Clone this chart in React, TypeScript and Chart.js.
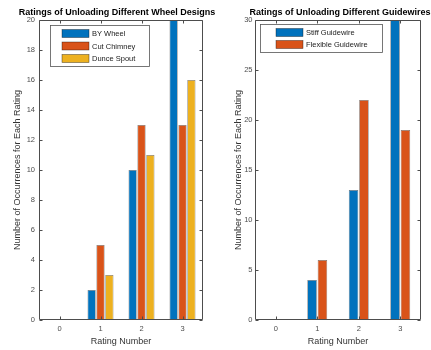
import React, { useEffect, useRef } from "react";
import { Chart, registerables } from "chart.js";

Chart.register(...registerables);

// ---- data ----
const ratingLabels = ["0", "1", "2", "3"];

const wheelTitle = "Ratings of Unloading Different Wheel Designs";
const wheelNames = ["BY Wheel", "Cut Chimney", "Dunce Spout"];
const byWheel = [0, 2, 10, 20];
const cutChimney = [0, 5, 13, 13];
const dunceSpout = [0, 3, 11, 16];
const wheelMax = 20;
const wheelStep = 2;

const guideTitle = "Ratings of Unloading Different Guidewires";
const guideNames = ["Stiff Guidewire", "Flexible Guidewire"];
const stiffGuide = [0, 4, 13, 30];
const flexibleGuide = [0, 6, 22, 19];
const guideMax = 30;
const guideStep = 5;

const xTitle = "Rating Number";
const yTitle = "Number of Occurrences for Each Rating";

const COLORS = ["#0072BD", "#D95319", "#EDB120"];
const FONT = "'Liberation Sans', Arial, Helvetica, sans-serif";
const AXIS = "#4d4d4d";

const framePlugin = {
  id: "matlabFrame",
  afterDraw(chart: any, _args: any, opts: any) {
    const { ctx, chartArea } = chart;
    const { left, right, top, bottom } = chartArea;
    const xs = chart.scales.x;
    const ys = chart.scales.y;
    ctx.save();
    // frame
    ctx.strokeStyle = AXIS;
    ctx.lineWidth = 1;
    const L = Math.round(left) + 0.5;
    const R = Math.round(right) - 0.5;
    const T = Math.round(top) + 0.5;
    const B = Math.round(bottom) - 0.5;
    ctx.beginPath();
    ctx.moveTo(L, T);
    ctx.lineTo(R, T);
    ctx.lineTo(R, B);
    ctx.lineTo(L, B);
    ctx.closePath();
    ctx.stroke();
    // inward ticks
    const tl = 3;
    ctx.beginPath();
    ys.ticks.forEach((t: any) => {
      const y = Math.round(ys.getPixelForValue(t.value)) + 0.5;
      ctx.moveTo(L, y);
      ctx.lineTo(L + tl, y);
      ctx.moveTo(R, y);
      ctx.lineTo(R - tl, y);
    });
    xs.ticks.forEach((_t: any, i: number) => {
      const x = Math.round(xs.getPixelForValue(i)) + 0.5;
      ctx.moveTo(x, B);
      ctx.lineTo(x, B - tl);
      ctx.moveTo(x, T);
      ctx.lineTo(x, T + tl);
    });
    ctx.stroke();

    // title
    ctx.fillStyle = "#000";
    ctx.font = `bold 9px ${FONT}`;
    ctx.textAlign = "center";
    ctx.textBaseline = "middle";
    ctx.fillText(opts.title, (left + right) / 2 + (opts.titleDx || 0), 13);

    // legend
    const names: string[] = chart.data.datasets.map((d: any) => d.label);
    ctx.font = `7.5px ${FONT}`;
    const maxW = Math.max(...names.map((n) => ctx.measureText(n).width));
    const bx = left + opts.legendDx;
    const by = top + opts.legendDy;
    const padL = opts.legendPadL;
    const swW = 27;
    const swH = 8;
    const rowH = opts.rowH;
    const bw = padL + swW + 3 + maxW + 14;
    const bh = 8.5 + (names.length - 1) * rowH + 7.5;
    ctx.fillStyle = "#fff";
    ctx.fillRect(bx, by, bw, bh);
    ctx.strokeStyle = "#555";
    ctx.lineWidth = 0.8;
    ctx.strokeRect(Math.round(bx) + 0.5, Math.round(by) + 0.5, Math.round(bw), Math.round(bh));
    names.forEach((n, i) => {
      const cy = by + 8.5 + i * rowH;
      ctx.fillStyle = chart.data.datasets[i].backgroundColor;
      ctx.fillRect(bx + padL, cy - swH / 2, swW, swH);
      ctx.strokeStyle = "rgba(0,0,0,0.6)";
      ctx.lineWidth = 0.6;
      ctx.strokeRect(bx + padL, cy - swH / 2, swW, swH);
      ctx.fillStyle = "#222";
      ctx.textAlign = "left";
      ctx.textBaseline = "middle";
      ctx.fillText(n, bx + padL + swW + 3, cy + 0.5);
    });
    ctx.restore();
  },
};

function makeConfig(
  names: string[],
  series: number[][],
  max: number,
  step: number,
  catPct: number,
  padRight: number,
  yWidth: number,
  yTitlePad: number,
  tickPad: number,
  plug: any
) {
  return {
    type: "bar" as const,
    data: {
      labels: ratingLabels,
      datasets: series.map((s, i) => ({
        label: names[i],
        data: s,
        backgroundColor: COLORS[i],
        borderColor: "rgba(0,0,0,0.55)",
        borderWidth: 0.7,
        categoryPercentage: catPct,
        barPercentage: 0.92,
      })),
    },
    options: {
      responsive: false,
      animation: false as const,
      layout: { padding: { top: 20, right: padRight, left: 0, bottom: 0 } },
      plugins: {
        legend: { display: false },
        title: { display: false },
        tooltip: { enabled: false },
        matlabFrame: plug,
      },
      scales: {
        x: {
          grid: { display: false, drawTicks: false },
          border: { display: false },
          ticks: { font: { family: FONT, size: 7.5 }, color: AXIS, padding: 4 },
          title: {
            display: true,
            text: xTitle,
            font: { family: FONT, size: 9 },
            color: "#333",
            padding: { top: 0, bottom: 2.6 },
          },
          afterFit: (s: any) => {
            s.height = 30;
          },
        },
        y: {
          min: 0,
          max: max,
          grid: { display: false, drawTicks: false },
          border: { display: false },
          ticks: { stepSize: step, font: { family: FONT, size: 7.5 }, color: AXIS, padding: tickPad },
          title: {
            display: true,
            text: yTitle,
            font: { family: FONT, size: 9 },
            color: "#333",
            padding: { top: yTitlePad, bottom: 0 },
          },
          afterFit: (s: any) => {
            s.width = yWidth;
          },
        },
      },
    },
    plugins: [framePlugin],
  };
}

export default function App() {
  const leftRef = useRef<HTMLCanvasElement>(null);
  const rightRef = useRef<HTMLCanvasElement>(null);

  useEffect(() => {
    const c1 = new Chart(
      leftRef.current as HTMLCanvasElement,
      makeConfig(wheelNames, [byWheel, cutChimney, dunceSpout], wheelMax, wheelStep, 0.65, 12, 39, 12, 4, {
        title: wheelTitle,
        titleDx: -4,
        legendDx: 11,
        legendDy: 5,
        legendPadL: 12,
        rowH: 12.5,
      }) as any
    );
    const c2 = new Chart(
      rightRef.current as HTMLCanvasElement,
      makeConfig(guideNames, [stiffGuide, flexibleGuide], guideMax, guideStep, 0.5, 10, 40, 18.5, 2.5, {
        title: guideTitle,
        titleDx: 2,
        legendDx: 5,
        legendDy: 4,
        legendPadL: 16,
        rowH: 12,
      }) as any
    );
    return () => {
      c1.destroy();
      c2.destroy();
    };
  }, []);

  return (
    <div style={{ position: "absolute", left: 0, top: 0, width: 431, height: 350, background: "#fff", overflow: "hidden" }}>
      <canvas ref={leftRef} width={215} height={350} style={{ position: "absolute", left: 0, top: 0, width: 215, height: 350 }} />
      <canvas ref={rightRef} width={216} height={350} style={{ position: "absolute", left: 215, top: 0, width: 216, height: 350 }} />
    </div>
  );
}
